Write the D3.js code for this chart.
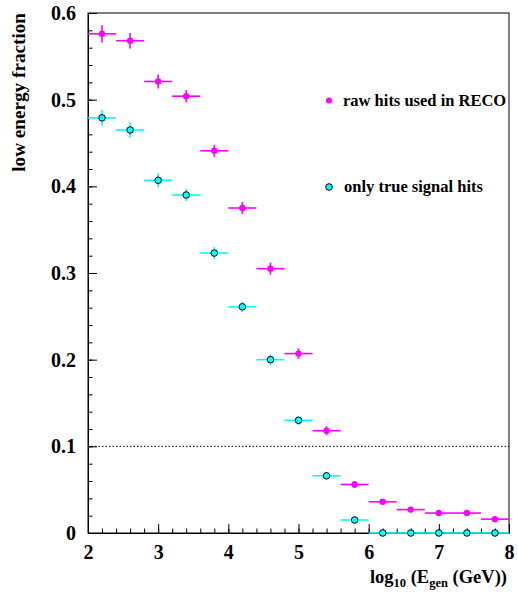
<!DOCTYPE html>
<html><head><meta charset="utf-8">
<script src="https://cdn.jsdelivr.net/npm/d3@7"></script>
<style>
html,body{margin:0;padding:0;background:#fff;}
svg{display:block;}
text{font-family:"Liberation Serif","DejaVu Serif",serif;font-weight:bold;fill:#000;}
</style></head>
<body>
<svg id="c" width="518" height="596"></svg>
<script>
// Data
const binCenters = [2.2,2.6,3.0,3.4,3.8,4.2,4.6,5.0,5.4,5.8,6.2,6.6,7.0,7.4,7.8];
const binHalfWidth = 0.2;
const rawRecoValues = [0.576,0.568,0.521,0.504,0.441,0.375,0.305,0.207,0.118,0.056,0.036,0.027,0.023,0.023,0.016];
const rawRecoErrors = [0.010,0.009,0.008,0.007,0.007,0.007,0.007,0.006,0.005,0.004,0.003,0.003,0.003,0.003,0.003];
const trueSignalValues = [0.479,0.465,0.407,0.390,0.323,0.261,0.200,0.130,0.066,0.015,0,0,0,0,0];
const trueSignalErrors = [0.009,0.009,0.008,0.007,0.007,0.006,0.006,0.005,0.004,0.003,0,0,0,0,0];
const xTickLabels = [2,3,4,5,6,7,8];
const yTickLabels = [0,0.1,0.2,0.3,0.4,0.5,0.6];
const referenceLine = 0.1;
const seriesNames = ["raw hits used in RECO","only true signal hits"];

const svg = d3.select("#c");
const L=88,R=509,T=13,B=533;
const x = d3.scaleLinear().domain([2,8]).range([L,R]);
const y = d3.scaleLinear().domain([0,0.6]).range([B,T]);

// frame
svg.append("rect").attr("x",L).attr("y",T).attr("width",R-L).attr("height",B-T)
  .attr("fill","none").attr("stroke","#000").attr("stroke-width",1);

const gxm = svg.append("g").attr("transform",`translate(0,${B})`)
  .call(d3.axisBottom(x).tickValues(d3.range(2,8.001,0.2)).tickSizeInner(-4.5).tickSizeOuter(0).tickFormat(""));
const gx = svg.append("g").attr("transform",`translate(0,${B})`)
  .call(d3.axisBottom(x).tickValues(xTickLabels).tickSizeInner(-9).tickSizeOuter(0).tickPadding(12).tickFormat(d3.format("d")));
const gym = svg.append("g").attr("transform",`translate(${L},0)`)
  .call(d3.axisLeft(y).tickValues(d3.range(0,0.6001,0.02)).tickSizeInner(-4.5).tickSizeOuter(0).tickFormat(""));
const gy = svg.append("g").attr("transform",`translate(${L},0)`)
  .call(d3.axisLeft(y).tickValues(yTickLabels).tickSizeInner(-9).tickSizeOuter(0).tickPadding(12)
    .tickFormat(d => d===0 ? "0" : d3.format(".1f")(d)));
[gxm,gx,gym,gy].forEach(g=>{g.select(".domain").attr("stroke","#000");g.selectAll(".tick line").attr("stroke","#000");});
gx.selectAll("text").style("font-size","20px").style("font-family","Liberation Serif").style("font-weight","bold");
gy.selectAll("text").style("font-size","20px").style("font-family","Liberation Serif").style("font-weight","bold");

svg.append("line").attr("x1",L).attr("x2",R).attr("y1",y(referenceLine)).attr("y2",y(referenceLine))
  .attr("stroke","#000").attr("stroke-width",1).attr("stroke-dasharray","1.5,2");

function drawSeries(vals, errs, color, stroke, r){
  const g = svg.append("g");
  binCenters.forEach((c,i)=>{
    g.append("line").attr("x1",x(c-binHalfWidth)).attr("x2",x(c+binHalfWidth))
      .attr("y1",y(vals[i])).attr("y2",y(vals[i])).attr("stroke",color).attr("stroke-width",1.6);
    if(errs[i]>0) g.append("line").attr("x1",x(c)).attr("x2",x(c))
      .attr("y1",y(vals[i]-errs[i])).attr("y2",y(vals[i]+errs[i])).attr("stroke",color).attr("stroke-width",1.6);
  });
  binCenters.forEach((c,i)=>{
    g.append("circle").attr("cx",x(c)).attr("cy",y(vals[i])).attr("r",r)
      .attr("fill",color).attr("stroke",stroke||"none").attr("stroke-width",stroke?1:0);
  });
}
drawSeries(trueSignalValues,trueSignalErrors,"#00ffff","#000",3.3);
drawSeries(rawRecoValues,rawRecoErrors,"#ff00ff",null,3.2);

// legend
svg.append("circle").attr("cx",329).attr("cy",100.5).attr("r",3).attr("fill","#ff00ff");
svg.append("text").attr("x",343).attr("y",106).style("font-size","16.5px").text(seriesNames[0]);
svg.append("circle").attr("cx",329).attr("cy",187).attr("r",3.3).attr("fill","#00ffff").attr("stroke","#000");
svg.append("text").attr("x",344).attr("y",192).style("font-size","16.5px").text(seriesNames[1]);

// y title
svg.append("text").attr("transform","translate(25,13) rotate(-90)").attr("text-anchor","end")
  .style("font-size","19.2px").text("low energy fraction");

// x title
const xt = svg.append("text").attr("x",507).attr("y",583).attr("text-anchor","end").style("font-size","18.5px");
xt.append("tspan").text("log");
xt.append("tspan").attr("dy",4).style("font-size","12.5px").text("10");
xt.append("tspan").attr("dy",-4).text(" (E");
xt.append("tspan").attr("dy",4).style("font-size","12.5px").text("gen");
xt.append("tspan").attr("dy",-4).text(" (GeV))");
</script>
</body></html>
